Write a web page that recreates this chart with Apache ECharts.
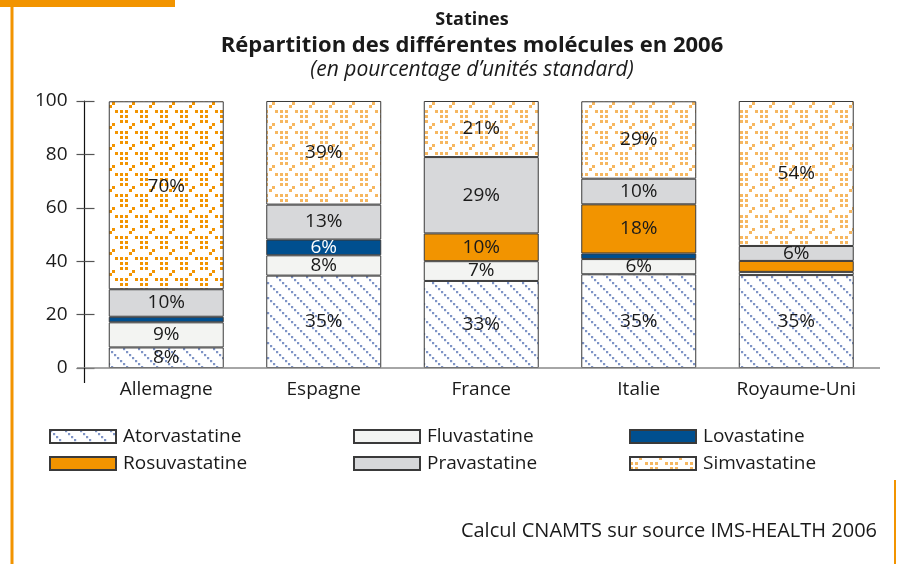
<!DOCTYPE html>
<html>
<head>
<meta charset="utf-8">
<script src="https://cdn.jsdelivr.net/npm/echarts@6/dist/echarts.min.js"></script>
<style>
  html, body { margin: 0; padding: 0; background: #fff; }
  #main { width: 906px; height: 564px; }
</style>
</head>
<body>
<div id="main"></div>
<script>
// pays et parts de chaque molécule (%)
var categories = ['Allemagne', 'Espagne', 'France', 'Italie', 'Royaume-Uni'];
var atorvastatine = [7.7, 34.6, 32.6, 35.1, 34.8];
var fluvastatine = [9.4, 7.6, 7.4, 5.7, 1.2];
var lovastatine = [2.1, 5.9, 0, 2.1, 0];
var rosuvastatine = [0, 0, 10.4, 18.4, 4.1];
var pravastatine = [10.3, 13.1, 28.6, 9.6, 5.6];
var simvastatine = [70.4, 38.8, 21.0, 29.0, 54.3];
var yTicks = [0, 20, 40, 60, 80, 100];

var FONT = 'Open Sans';
var TXT = '#1a1a1a';

// motif hachuré (atorvastatine)
function hatch () {
  var c = document.createElement('canvas');
  c.width = 15; c.height = 15;
  var g = c.getContext('2d');
  g.fillStyle = '#fff';
  g.fillRect(0, 0, 15, 15);
  g.fillStyle = '#7f94c6';
  for (var i = 0; i < 5; i++) g.fillRect(i * 3, i * 3, 2.2, 2.2);
  return c;
}

// motif pointillé (simvastatine)
function dots (color) {
  var c = document.createElement('canvas');
  c.width = 20; c.height = 21;
  var g = c.getContext('2d');
  g.fillStyle = '#fff';
  g.fillRect(0, 0, 20, 21);
  g.fillStyle = color;
  var pts = [[15, 5], [0, 5], [5, 5], [0, 10], [5, 10], [0, 15], [5, 15], [12, 18], [9, 0]];
  pts.forEach(function (p) { g.fillRect(p[0], p[1], 3, 3); });
  return c;
}

var hatchFill = { image: hatch(), repeat: 'repeat' };
var dotsLight = { image: dots('#f6b760'), repeat: 'repeat' };
var dotsDark = { image: dots('#f29400'), repeat: 'repeat' };

var seriesDefs = [
  { name: 'Atorvastatine', data: atorvastatine, color: hatchFill },
  { name: 'Fluvastatine', data: fluvastatine, color: '#f3f4f2' },
  { name: 'Lovastatine', data: lovastatine, color: '#004f8f', label: '#fff' },
  { name: 'Rosuvastatine', data: rosuvastatine, color: '#f29400' },
  { name: 'Pravastatine', data: pravastatine, color: '#d7d8da' },
  { name: 'Simvastatine', data: simvastatine, color: dotsLight }
];

var series = seriesDefs.map(function (s) {
  return {
    name: s.name,
    type: 'bar',
    stack: 'total',
    barWidth: '73%',
    itemStyle: { color: s.color, borderColor: '#3a3a3a', borderWidth: 1 },
    label: {
      show: true,
      position: 'inside',
      fontFamily: FONT,
      fontSize: 19,
      color: s.label || TXT,
      formatter: function (p) { return p.value >= 5 ? Math.round(p.value) + '%' : ''; }
    },
    data: s.data.map(function (v, i) {
      if (!v) return '-';
      // Allemagne : simvastatine en orange plus soutenu, étiquette un peu remontée
      if (s.name === 'Simvastatine' && i === 0) {
        return { value: v, itemStyle: { color: dotsDark }, label: { offset: [0, -9] } };
      }
      return v;
    })
  };
});

var legendBase = {
  orient: 'vertical',
  top: 427,
  padding: 0,
  itemWidth: 66,
  itemHeight: 13,
  itemGap: 8,
  icon: 'rect',
  selectedMode: false,
  textStyle: { fontFamily: FONT, fontSize: 19, color: TXT, padding: [0, 0, 0, 2] }
};

var chart = echarts.init(document.getElementById('main'));
chart.setOption({
  animation: false,
  textStyle: { fontFamily: FONT },
  title: {
    left: 467,
    top: 2,
    textAlign: 'center',
    text: '{s|Statines}\n{b|Répartition des différentes molécules en 2006}\n{i|(en pourcentage d’unités standard)}',
    textStyle: {
      rich: {
        s: { fontFamily: FONT, fontSize: 18, fontWeight: 'bold', color: TXT, lineHeight: 25, align: 'center' },
        b: { fontFamily: FONT, fontSize: 22, fontWeight: 'bold', color: TXT, lineHeight: 27, align: 'center' },
        i: { fontFamily: FONT, fontSize: 21, fontStyle: 'italic', fontWeight: 'normal', color: TXT, lineHeight: 22, align: 'center' }
      }
    }
  },
  legend: [
    Object.assign({ left: 49, data: ['Atorvastatine', 'Rosuvastatine'] }, legendBase),
    Object.assign({ left: 353, data: ['Fluvastatine', 'Pravastatine'] }, legendBase),
    Object.assign({ left: 629, data: ['Lovastatine', 'Simvastatine'] }, legendBase)
  ],
  grid: { left: 87.5, right: 31, top: 101, bottom: 196 },
  xAxis: {
    type: 'category',
    data: categories,
    axisLine: { show: false },
    axisTick: { show: false },
    axisLabel: { fontFamily: FONT, fontSize: 19, color: TXT, margin: 12 }
  },
  yAxis: [
    {
      type: 'value', min: yTicks[0], max: yTicks[yTicks.length - 1], interval: 20, offset: 3,
      splitLine: { show: false },
      axisLine: { show: true, lineStyle: { color: '#111', width: 1.2 } },
      axisTick: { show: true, length: 8, lineStyle: { color: '#555', width: 1.2 } },
      axisLabel: { fontFamily: FONT, fontSize: 19, color: TXT, margin: 17 }
    },
    {
      type: 'value', min: yTicks[0], max: yTicks[yTicks.length - 1], interval: 20, offset: 3, position: 'left',
      splitLine: { show: false },
      axisLine: { show: false },
      axisTick: { show: true, inside: true, length: 10, lineStyle: { color: '#555', width: 1.2 } },
      axisLabel: { show: false }
    }
  ],
  series: series
});

// décor : ligne de base, prolongement de l'axe, cadre orange, source
var y0 = chart.convertToPixel({ yAxisIndex: 0 }, 0);
var ax = 84.5;
chart.setOption({
  graphic: [
    { type: 'line', shape: { x1: 77, y1: y0, x2: 880, y2: y0 }, style: { stroke: '#888', lineWidth: 1.5 }, z: 10 },
    { type: 'line', shape: { x1: ax, y1: y0, x2: ax, y2: y0 + 15 }, style: { stroke: '#111', lineWidth: 1.2 }, z: 10 },
    { type: 'rect', shape: { x: 0, y: 0, width: 175, height: 7 }, style: { fill: '#f29400' } },
    { type: 'rect', shape: { x: 10.5, y: 0, width: 3, height: 564 }, style: { fill: '#f29400' } },
    { type: 'rect', shape: { x: 894, y: 480, width: 2, height: 84 }, style: { fill: '#f29400' } },
    {
      type: 'text', right: 29, top: 521,
      style: { text: 'Calcul CNAMTS sur source IMS-HEALTH 2006', fontFamily: FONT, fontSize: 20, fill: TXT }
    }
  ]
});
</script>
</body>
</html>
